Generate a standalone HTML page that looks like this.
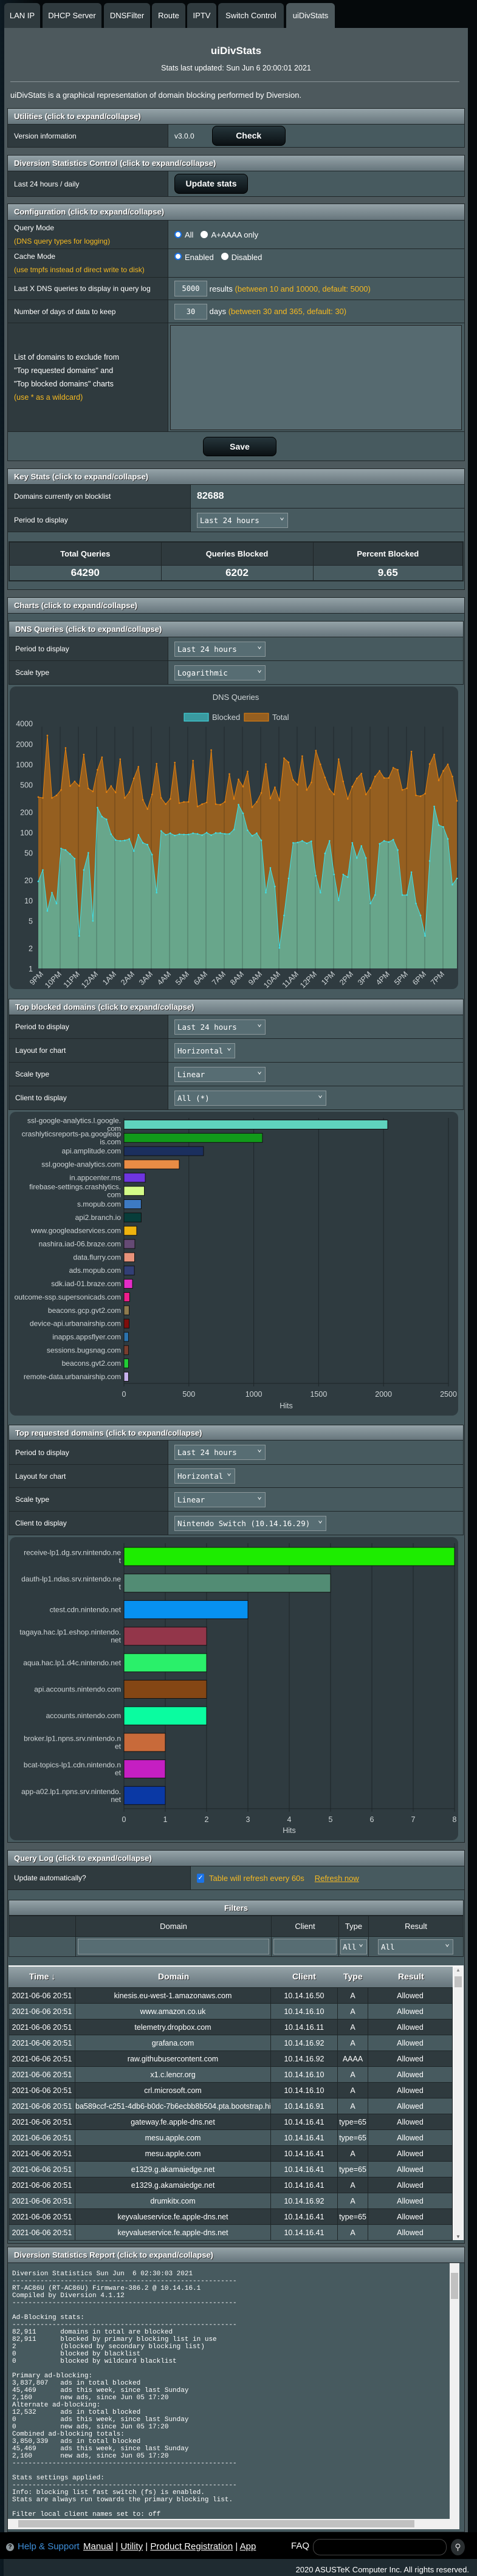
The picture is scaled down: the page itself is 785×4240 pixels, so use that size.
<!DOCTYPE html>
<html><head><meta charset="utf-8">
<style>
*{box-sizing:border-box}
body{margin:0;width:785px;height:4240px;overflow:hidden;background:#05090b;font-family:"Liberation Sans",Arial,sans-serif;color:#fff}
#page{position:relative;width:785px;height:4240px;background:linear-gradient(90deg,#0d1a22 0,#05090b 60px,#05090b 100%)}
.a{position:absolute}
.tab{position:absolute;top:5px;height:41px;background:#2f3a3e;border-radius:6px 6px 0 0;font-size:13px;line-height:41px;text-align:center;color:#fff}
.h{position:absolute;height:27px;background:linear-gradient(#95a3a8,#66757c);color:#fff;font-weight:bold;font-size:13px;line-height:26px;padding-left:10px;border:1px solid #1f2628;text-shadow:1px 1px 0 #333}
.r{position:absolute;display:flex;border:1px solid #1f2628;border-top:none}
.l{background:#2f3a3e;font-size:12px;padding-left:10px;display:flex;flex-direction:column;justify-content:center;border-right:1px solid #1f2628;flex:none}
.v{background:#475a5f;flex:1;display:flex;align-items:center;padding-left:10px;font-size:12px}
.btn{background:linear-gradient(#26363c,#0a1013);border-radius:8px;color:#fff;font-weight:bold;font-size:14px;text-align:center;border:1px solid #000}
.sel{position:relative;height:25px;background:#576d73;border:1px solid #8d999c;font-family:"DejaVu Sans Mono","Liberation Mono",monospace;font-size:12.5px;line-height:23px;padding-left:4px;color:#fff}
.sel:after{content:"\2304";position:absolute;right:5px;top:-5px;font-size:13px}
.inp{background:#576d73;border:1px solid #8d999c;font-family:"DejaVu Sans Mono","Liberation Mono",monospace;font-size:12px;color:#fff;text-align:center}
.hint{color:#f5b921}
.radio{display:inline-block;width:12px;height:12px;border-radius:50%;background:#fff;vertical-align:-2px;margin-right:5px}
.radio.on{background:#fff;border:2px solid #1a73e8}
.panel{position:absolute;background:#2f3b40;border-radius:10px}
table{border-collapse:collapse}
.log td{height:26px;border:1px solid #1f2628;text-align:center;font-size:12.5px;padding:0;white-space:nowrap;overflow:hidden}
pre{margin:0;font-family:"Liberation Mono",monospace;font-size:11px;line-height:12px;color:#fff}
</style></head>
<body>
<div id="page">

<div class="tab" style="left:7px;width:59px">LAN IP</div>
<div class="tab" style="left:70px;width:97px">DHCP Server</div>
<div class="tab" style="left:171px;width:76px">DNSFilter</div>
<div class="tab" style="left:250px;width:55px">Route</div>
<div class="tab" style="left:308px;width:48px">IPTV</div>
<div class="tab" style="left:359px;width:108px">Switch Control</div>
<div class="tab" style="left:471px;width:80px;background:#4d595d">uiDivStats</div>

<div class="a" style="left:7px;top:46px;width:763px;height:4122px;background:#4d595d"></div>

<div class="a" style="left:7px;top:74px;width:763px;text-align:center;font-weight:bold;font-size:17px">uiDivStats</div>
<div class="a" style="left:7px;top:105px;width:763px;text-align:center;font-size:12.5px">Stats last updated: Sun Jun 6 20:00:01 2021</div>
<div class="a" style="left:17px;top:134px;width:739px;height:1px;background:#8a9599"></div>
<div class="a" style="left:17px;top:149px;font-size:13px">uiDivStats is a graphical representation of domain blocking performed by Diversion.</div>

<!-- Utilities -->
<div class="h" style="top:178px;left:12px;width:753px">Utilities (click to expand/collapse)</div>
<div class="r" style="top:205px;left:12px;width:753px;height:38px"><div class="l" style="width:264px">Version information</div><div class="v"><span>v3.0.0</span><div class="btn" style="margin-left:29px;width:121px;height:33px;line-height:31px">Check</div></div></div>

<div class="h" style="top:255px;left:12px;width:753px">Diversion Statistics Control (click to expand/collapse)</div>
<div class="r" style="top:282px;left:12px;width:753px;height:42px"><div class="l" style="width:264px">Last 24 hours / daily</div><div class="v"><div class="btn" style="width:121px;height:33px;line-height:31px">Update stats</div></div></div>

<!-- Configuration -->
<div class="h" style="top:335px;left:12px;width:753px;height:28px">Configuration (click to expand/collapse)</div>
<div class="r" style="top:363px;left:12px;width:753px;height:47px"><div class="l" style="width:264px;gap:8px"><span>Query Mode</span><span class="hint">(DNS query types for logging)</span></div><div class="v" style="font-size:13px"><span class="radio on"></span>All<span class="radio" style="margin-left:12px"></span>A+AAAA only</div></div>
<div class="r" style="top:410px;left:12px;width:753px;height:47px"><div class="l" style="width:264px;gap:8px"><span>Cache Mode</span><span class="hint">(use tmpfs instead of direct write to disk)</span></div><div class="v" style="font-size:13px;align-items:flex-start;padding-top:6px"><span class="radio on"></span>Enabled<span class="radio" style="margin-left:12px"></span>Disabled</div></div>
<div class="r" style="top:457px;left:12px;width:753px;height:37px"><div class="l" style="width:264px">Last X DNS queries to display in query log</div><div class="v" style="font-size:13px"><div class="inp" style="width:54px;height:26px;line-height:24px">5000</div>&nbsp;results&nbsp;<span class="hint">(between 10 and 10000, default: 5000)</span></div></div>
<div class="r" style="top:494px;left:12px;width:753px;height:38px"><div class="l" style="width:264px">Number of days of data to keep</div><div class="v" style="font-size:13px"><div class="inp" style="width:54px;height:26px;line-height:24px">30</div>&nbsp;days&nbsp;<span class="hint">(between 30 and 365, default: 30)</span></div></div>
<div class="r" style="top:532px;left:12px;width:753px;height:179px"><div class="l" style="width:264px;gap:8px;font-size:12.5px"><span>List of domains to exclude from</span><span>"Top requested domains" and</span><span>"Top blocked domains" charts</span><span class="hint">(use * as a wildcard)</span></div><div class="v" style="padding-left:3px"><div style="width:480px;height:173px;background:#566a70;border:1px solid #222"></div></div></div>
<div class="r" style="top:711px;left:12px;width:753px;height:48px;background:#475a5f"><div class="btn a" style="left:321px;top:8px;width:121px;height:32px;line-height:30px">Save</div></div>

<!-- Key stats -->
<div class="h" style="top:771px;left:12px;width:753px">Key Stats (click to expand/collapse)</div>
<div class="r" style="top:798px;left:12px;width:753px;height:39px"><div class="l" style="width:301px">Domains currently on blocklist</div><div class="v" style="font-weight:bold;font-size:16px">82688</div></div>
<div class="r" style="top:837px;left:12px;width:753px;height:39px"><div class="l" style="width:301px">Period to display</div><div class="v"><div class="sel" style="width:150px">Last 24 hours</div></div></div>
<div class="a" style="top:876px;left:12px;width:753px;height:95px;background:#475a5f;border:1px solid #1f2628;border-top:none"></div>
<table class="a" style="top:891px;left:14px;width:749px;border:2px solid #1f2628">
<tr style="height:38px;background:#2f3a3e;font-weight:bold;font-size:13px;text-align:center"><td style="width:250px;border:1px solid #1f2628">Total Queries</td><td style="width:250px;border:1px solid #1f2628">Queries Blocked</td><td style="border:1px solid #1f2628">Percent Blocked</td></tr>
<tr style="height:26px;background:#475a5f;font-weight:bold;font-size:17px;text-align:center"><td style="border:1px solid #1f2628">64290</td><td style="border:1px solid #1f2628">6202</td><td style="border:1px solid #1f2628">9.65</td></tr>
</table>

<!-- Charts -->
<div class="h" style="top:983px;left:12px;width:753px">Charts (click to expand/collapse)</div>
<div class="a" style="top:1010px;left:12px;width:753px;height:2023px;background:#475a5f;border:1px solid #1f2628;border-top:none"></div>

<div class="h" style="top:1022px;left:14px;width:749px">DNS Queries (click to expand/collapse)</div>
<div class="r" style="top:1049px;left:14px;width:749px;height:39px"><div class="l" style="width:262px">Period to display</div><div class="v"><div class="sel" style="width:150px">Last 24 hours</div></div></div>
<div class="r" style="top:1088px;left:14px;width:749px;height:39px"><div class="l" style="width:262px">Scale type</div><div class="v"><div class="sel" style="width:150px">Logarithmic</div></div></div>
<div class="panel" style="top:1130px;left:16px;width:738px;height:498px"></div>
<svg class="a" id="dnsChart" style="left:0;top:1130px" width="785" height="498"></svg>

<div class="h" style="top:1644px;left:14px;width:749px">Top blocked domains (click to expand/collapse)</div>
<div class="r" style="top:1671px;left:14px;width:749px;height:39px"><div class="l" style="width:262px">Period to display</div><div class="v"><div class="sel" style="width:150px">Last 24 hours</div></div></div>
<div class="r" style="top:1710px;left:14px;width:749px;height:39px"><div class="l" style="width:262px">Layout for chart</div><div class="v"><div class="sel" style="width:100px">Horizontal</div></div></div>
<div class="r" style="top:1749px;left:14px;width:749px;height:39px"><div class="l" style="width:262px">Scale type</div><div class="v"><div class="sel" style="width:150px">Linear</div></div></div>
<div class="r" style="top:1788px;left:14px;width:749px;height:39px"><div class="l" style="width:262px">Client to display</div><div class="v"><div class="sel" style="width:250px">All (*)</div></div></div>
<div class="panel" style="top:1830px;left:16px;width:738px;height:500px"></div>
<svg class="a" id="blockedChart" style="left:0;top:1830px" width="785" height="500"></svg>

<div class="h" style="top:2345px;left:14px;width:749px;height:26px">Top requested domains (click to expand/collapse)</div>
<div class="r" style="top:2371px;left:14px;width:749px;height:40px"><div class="l" style="width:262px">Period to display</div><div class="v"><div class="sel" style="width:150px">Last 24 hours</div></div></div>
<div class="r" style="top:2411px;left:14px;width:749px;height:38px"><div class="l" style="width:262px">Layout for chart</div><div class="v"><div class="sel" style="width:100px">Horizontal</div></div></div>
<div class="r" style="top:2449px;left:14px;width:749px;height:39px"><div class="l" style="width:262px">Scale type</div><div class="v"><div class="sel" style="width:150px">Linear</div></div></div>
<div class="r" style="top:2488px;left:14px;width:749px;height:39px"><div class="l" style="width:262px">Client to display</div><div class="v"><div class="sel" style="width:250px">Nintendo Switch (10.14.16.29)</div></div></div>
<div class="panel" style="top:2530px;left:16px;width:738px;height:499px"></div>
<svg class="a" id="requestedChart" style="left:0;top:2530px" width="785" height="499"></svg>

<!-- Query log -->
<div class="h" style="top:3045px;left:12px;width:753px">Query Log (click to expand/collapse)</div>
<div class="r" style="top:3072px;left:12px;width:753px;height:39px"><div class="l" style="width:301px">Update automatically?</div><div class="v" style="font-size:13px"><span style="display:inline-block;width:12px;height:15px;background:#1a73e8;border-radius:2px;font-size:11px;line-height:15px;text-align:center;margin-right:8px">✓</span><span class="hint">Table will refresh every 60s</span><span class="hint" style="margin-left:17px;text-decoration:underline">Refresh now</span></div></div>
<div class="a" style="top:3111px;left:12px;width:753px;height:582px;background:#475a5f;border:1px solid #1f2628;border-top:none"></div>
<div class="h" style="top:3127px;left:14px;width:749px;height:26px;text-align:center;padding:0">Filters</div>
<table class="a" style="top:3153px;left:14px;width:749px;font-size:13px;text-align:center">
<tr style="height:34px;background:#2f3a3e"><td style="width:110px;border:1px solid #1f2628"></td><td style="width:322px;border:1px solid #1f2628">Domain</td><td style="width:111px;border:1px solid #1f2628">Client</td><td style="width:49px;border:1px solid #1f2628">Type</td><td style="border:1px solid #1f2628">Result</td></tr>
<tr style="height:32px;background:#475a5f"><td style="border:1px solid #1f2628"></td><td style="border:1px solid #1f2628;padding:3px"><div class="inp" style="height:26px"></div></td><td style="border:1px solid #1f2628;padding:3px"><div class="inp" style="height:26px"></div></td><td style="border:1px solid #1f2628;padding:2px"><div class="sel" style="height:25px;padding-left:3px;text-align:left">All</div></td><td style="border:1px solid #1f2628;padding:2px 16px 2px 15px"><div class="sel" style="text-align:left">All</div></td></tr>
</table>
<div class="a" style="top:3235px;left:14px;width:749px;height:452px;background:#fff"></div>
<div class="a" style="top:3237px;left:14px;width:731px;height:34px;background:linear-gradient(#95a3a8,#66757c);font-weight:bold;font-size:14px;text-shadow:1px 1px 0 #333">
<span class="a" style="left:34px;top:8px">Time ↓</span>
<span class="a" style="left:246px;top:8px">Domain</span>
<span class="a" style="left:467px;top:8px">Client</span>
<span class="a" style="left:551px;top:8px">Type</span>
<span class="a" style="left:641px;top:8px">Result</span>
</div>
<div class="a" style="top:3238px;left:746px;width:16px;height:448px;background:#f0f0f0"><div style="position:absolute;top:15px;left:2px;width:12px;height:18px;background:#c1c1c1"></div><div style="position:absolute;top:0;left:4px;font-size:8px;color:#888">▲</div><div style="position:absolute;bottom:0;left:4px;font-size:8px;color:#666">▼</div></div>
<table class="a log" id="logTable" style="top:3271px;left:14px;width:731px;table-layout:fixed">
<colgroup><col style="width:109px"><col style="width:322px"><col style="width:110px"><col style="width:50px"><col></colgroup>
<tbody id="logBody"></tbody></table>

<!-- Report -->
<div class="h" style="top:3698px;left:12px;width:753px">Diversion Statistics Report (click to expand/collapse)</div>
<div class="a" style="top:3725px;left:12px;width:753px;height:443px;background:#475a5f;border:1px solid #1f2628;border-top:none;overflow:hidden">
<pre style="position:absolute;left:7px;top:12px">Diversion Statistics Sun Jun  6 02:30:03 2021
--------------------------------------------------------
RT-AC86U (RT-AC86U) Firmware-386.2 @ 10.14.16.1
Compiled by Diversion 4.1.12
--------------------------------------------------------

Ad-Blocking stats:
--------------------------------------------------------
82,911      domains in total are blocked
82,911      blocked by primary blocking list in use
2           (blocked by secondary blocking list)
0           blocked by blacklist
0           blocked by wildcard blacklist

Primary ad-blocking:
3,837,807   ads in total blocked
45,469      ads this week, since last Sunday
2,160       new ads, since Jun 05 17:20
Alternate ad-blocking:
12,532      ads in total blocked
0           ads this week, since last Sunday
0           new ads, since Jun 05 17:20
Combined ad-blocking totals:
3,850,339   ads in total blocked
45,469      ads this week, since last Sunday
2,160       new ads, since Jun 05 17:20
--------------------------------------------------------

Stats settings applied:
--------------------------------------------------------
Info: blocking list fast switch (fs) is enabled.
Stats are always run towards the primary blocking list.

Filter local client names set to: off</pre>
<div class="a" style="left:727px;top:0;width:16px;height:421px;background:#f0f0f0"><div style="position:absolute;top:16px;left:2px;width:12px;height:43px;background:#c1c1c1"></div></div>
<div class="a" style="left:0;top:421px;width:743px;height:17px;background:#f0f0f0"><div style="position:absolute;top:2px;left:17px;width:652px;height:12px;background:#c1c1c1"></div></div>
</div>

<!-- Footer -->
<div class="a" style="top:4168px;left:0;width:785px;height:44px;background:#000"></div>
<div class="a" style="top:4186px;left:10px;width:13px;height:13px;border-radius:50%;background:#8a9499;color:#000;font-size:10px;font-weight:bold;text-align:center;line-height:13px">?</div>
<div class="a" style="top:4183px;left:29px;font-size:15px;color:#3e8ed8">Help &amp; Support</div>
<div class="a" style="top:4183px;left:137px;font-size:15px;color:#fff"><u>Manual</u> | <u>Utility</u> | <u>Product Registration</u> | <u>App</u></div>
<div class="a" style="top:4182px;left:479px;font-size:15px">FAQ</div>
<div class="a" style="top:4179px;left:515px;width:220px;height:27px;border:1px solid #444;border-radius:12px;background:#000"></div>
<div class="a" style="top:4179px;left:742px;width:23px;height:27px;border-radius:50%;background:#2a2f31;color:#ddd;text-align:center;line-height:27px;font-size:14px">⚲</div>
<div class="a" style="top:4212px;left:6px;width:779px;height:28px;background:#1f2b31"></div>
<div class="a" style="top:4222px;right:13px;font-size:13px">2020 ASUSTeK Computer Inc. All rights reserved.</div>

</div>

<script>
// ---------- DNS Queries chart data ----------
const hourLabels = ['9PM','10PM','11PM','12AM','1AM','2AM','3AM','4AM','5AM','6AM','7AM','8AM','9AM','10AM','11AM','12PM','1PM','2PM','3PM','4PM','5PM','6PM','7PM'];
const totalQueries = [330,320,2650,320,350,420,1740,480,560,480,
1390,440,400,830,1270,390,480,385,1190,320,
390,620,920,300,220,360,1020,320,260,310,
1060,270,280,280,1130,240,260,275,1620,260,
255,280,720,310,600,470,785,235,280,380,
1010,315,460,295,1230,1070,590,500,1320,420,
540,1590,1000,640,430,360,1190,560,310,470,
620,730,360,450,660,800,630,630,890,830,
420,445,1540,350,340,370,1010,1390,580,800,
1000,660,290];
const blockedQueries = [19,28,7,13,9,58,55,48,41,3,
28,50,5,231,170,155,94,77,75,76,
80,53,92,70,66,47,13,105,92,97,
90,94,93,93,97,95,91,99,91,98,
98,95,95,110,255,190,107,89,97,76,
13,30,16,2,6,21,70,71,75,69,
74,23,13,49,75,24,10,24,22,70,
42,63,42,9,12,68,75,72,78,55,
12,12,26,9,6,3,38,240,128,120,
80,17,21];
const logTicks = [1,2,5,10,20,50,100,200,500,1000,2000,4000];

// ---------- Top blocked data ----------
const blockedDomains = ['ssl-google-analytics.l.google.\ncom','crashlyticsreports-pa.googleap\nis.com','api.amplitude.com','ssl.google-analytics.com','in.appcenter.ms','firebase-settings.crashlytics.\ncom','s.mopub.com','api2.branch.io','www.googleadservices.com','nashira.iad-06.braze.com','data.flurry.com','ads.mopub.com','sdk.iad-01.braze.com','outcome-ssp.supersonicads.com','beacons.gcp.gvt2.com','device-api.urbanairship.com','inapps.appsflyer.com','sessions.bugsnag.com','beacons.gvt2.com','remote-data.urbanairship.com'];
const blockedHits = [2032,1067,613,426,164,157,133,133,98,84,82,80,66,44,40,40,35,35,35,35];
const blockedColors = ['#5fd3bd','#119a1a','#1b2f5e','#e98c45','#6e35e0','#d3fb88','#3d7ac3','#073d3a','#f0b40e','#654a74','#e8927a','#323f76','#e52cc9','#f01d8c','#8f7b4e','#7e0e0c','#2b73ad','#7a3e2e','#21cc35','#c7b2ee'];
const blockedTicks = [0,500,1000,1500,2000,2500];

// ---------- Top requested data ----------
const requestedDomains = ['receive-lp1.dg.srv.nintendo.ne\nt','dauth-lp1.ndas.srv.nintendo.ne\nt','ctest.cdn.nintendo.net','tagaya.hac.lp1.eshop.nintendo.\nnet','aqua.hac.lp1.d4c.nintendo.net','api.accounts.nintendo.com','accounts.nintendo.com','broker.lp1.npns.srv.nintendo.n\net','bcat-topics-lp1.cdn.nintendo.n\net','app-a02.lp1.npns.srv.nintendo.\nnet'];
const requestedHits = [8,5,3,2,2,2,2,1,1,1];
const requestedColors = ['#1ded00','#528c74','#0791f0','#93364a','#2af06a','#844614','#0afca0','#c86a3a','#c51fc2','#0a39a5'];
const requestedTicks = [0,1,2,3,4,5,6,7,8];

// ---------- Query log data ----------
const logDomains = ['kinesis.eu-west-1.amazonaws.com','www.amazon.co.uk','telemetry.dropbox.com','grafana.com','raw.githubusercontent.com','x1.c.lencr.org','crl.microsoft.com','ba589ccf-c251-4db6-b0dc-7b6ecbb8b504.pta.bootstrap.his.','gateway.fe.apple-dns.net','mesu.apple.com','mesu.apple.com','e1329.g.akamaiedge.net','e1329.g.akamaiedge.net','drumkitx.com','keyvalueservice.fe.apple-dns.net','keyvalueservice.fe.apple-dns.net'];
const logClients = ['10.14.16.50','10.14.16.10','10.14.16.11','10.14.16.92','10.14.16.92','10.14.16.10','10.14.16.10','10.14.16.91','10.14.16.41','10.14.16.41','10.14.16.41','10.14.16.41','10.14.16.41','10.14.16.92','10.14.16.41','10.14.16.41'];
const logTypes = ['A','A','A','A','AAAA','A','A','A','type=65','type=65','A','type=65','A','A','type=65','A'];

const NS='http://www.w3.org/2000/svg';
function mk(parent, tag, attrs, text){
  const e=document.createElementNS(NS,tag);
  for(const k in attrs) e.setAttribute(k,attrs[k]);
  if(text!==undefined) e.textContent=text;
  parent.appendChild(e); return e;
}

// DNS chart
(function(){
  const svg=document.getElementById('dnsChart');
  const x0=63, x1=752, base=464, perDecade=112;
  const xs=i=>x0+i*(x1-x0)/(totalQueries.length-1);
  const ys=v=>base-perDecade*Math.log10(v);
  const t=mk(svg,'text',{x:388,y:22,'text-anchor':'middle','font-size':13,fill:'#cfd5d7','font-family':'Liberation Sans'},'DNS Queries');
  
  
  const lb=mk(svg,'rect',{x:303,y:44,width:40,height:13,fill:'#3a9aa0',stroke:'#40e0e8','stroke-width':1});
  
  
  mk(svg,'text',{x:349,y:55,'font-size':13,fill:'#cfd5d7','font-family':'Liberation Sans'},'Blocked');
  const lt=mk(svg,'rect',{x:402,y:44,width:40,height:13,fill:'#955f20',stroke:'#e8820c','stroke-width':1});
  
  
  mk(svg,'text',{x:448,y:55,'font-size':13,fill:'#cfd5d7','font-family':'Liberation Sans'},'Total');
  logTicks.forEach(v=>{
    const tx=mk(svg,'text',{x:54,y:ys(v)+5,'text-anchor':'end','font-size':12.5,fill:'#cfd5d7','font-family':'Liberation Sans'},String(v));
    
    
  });
  function area(arr){
    let d='M'+xs(0)+','+base;
    arr.forEach((v,i)=>{d+=' L'+xs(i).toFixed(1)+','+ys(v).toFixed(1);});
    return d+' L'+xs(arr.length-1)+','+base+' Z';
  }
  function line(arr){return arr.map((v,i)=>(i?'L':'M')+xs(i).toFixed(1)+','+ys(v).toFixed(1)).join(' ');}
  const at=mk(svg,'path',{d:area(totalQueries),fill:'#955f20'});
  
  
  const ab=mk(svg,'path',{d:area(blockedQueries),fill:'#68a68b'});
  
  
  hourLabels.forEach((h,k)=>{
    const gx=69+30*k;
    mk(svg,'line',{x1:gx,y1:66,x2:gx,y2:base+6,stroke:'rgba(0,0,0,0.28)','stroke-width':1});
    const tx=mk(svg,'text',{x:gx+3,y:base+10,'text-anchor':'end','font-size':12.5,fill:'#cfd5d7','font-family':'Liberation Sans',transform:'rotate(-45 '+(gx+3)+' '+(base+10)+')'},h);
    
    
  });
  mk(svg,'path',{d:line(totalQueries),fill:'none',stroke:'#e8820c','stroke-width':1});
  mk(svg,'path',{d:line(blockedQueries),fill:'none',stroke:'#3ee0e8','stroke-width':1});
  totalQueries.forEach((v,i)=>{
    const c=mk(svg,'circle',{cx:xs(i),cy:ys(v),r:1.3,fill:'#e8820c'});
    
    
  });
  blockedQueries.forEach((v,i)=>{
    const c=mk(svg,'circle',{cx:xs(i),cy:ys(v),r:1.3,fill:'#3ee0e8'});
    
    
  });
})();

function barChart(svgId, labels, values, colors, ticks, scale, firstY, step, barH, gridTop, axisY, hitsY){
  const svg=document.getElementById(svgId);
  const x0=204;
  const xs=v=>x0+v*scale;
  ticks.forEach(v=>{
    mk(svg,'line',{x1:xs(v),y1:gridTop,x2:xs(v),y2:axisY+5,stroke:'#1e2629','stroke-width':1});
    const tx=mk(svg,'text',{x:xs(v),y:axisY+22,'text-anchor':'middle','font-size':12.5,fill:'#cfd5d7','font-family':'Liberation Sans'},String(v));
    
    
  });
  mk(svg,'line',{x1:x0,y1:axisY,x2:xs(ticks[ticks.length-1]),y2:axisY,stroke:'#1e2629','stroke-width':1});
  const ht=mk(svg,'text',{x:(x0+xs(ticks[ticks.length-1]))/2,y:hitsY,'text-anchor':'middle','font-size':12.5,fill:'#cfd5d7','font-family':'Liberation Sans'},'Hits');
  
  
  values.forEach((v,i)=>{
    const cy=firstY+i*step;
    const r=mk(svg,'rect',{x:x0,y:cy-barH/2,width:Math.max(0,xs(v)-x0),height:barH,fill:colors[i],stroke:'#111','stroke-width':1});
    
    
    const parts=labels[i].split('\n');
    parts.forEach((p,j)=>{
      const yy=cy+4+(j-(parts.length-1)/2)*13;
      const tx=mk(svg,'text',{x:199,y:yy,'text-anchor':'end','font-size':12,fill:'#cfd5d7','font-family':'Liberation Sans'},p);
      
      
    });
  });
}
barChart('blockedChart',blockedDomains,blockedHits,blockedColors,blockedTicks,(738-204)/2500,21,21.84,15,10,447,488);
barChart('requestedChart',requestedDomains,requestedHits,requestedColors,requestedTicks,68,32,43.7,30,10,447,487);

// Query log rows
(function(){
  const body=document.getElementById('logBody');
  logDomains.forEach((d,i)=>{
    const tr=document.createElement('tr');
    
    
    tr.style.background = i%2 ? '#475a5f' : '#2f3a3e';
    const cells=['2021-06-06 20:51',d,logClients[i],logTypes[i],'Allowed'];
    cells.forEach(c=>{const td=document.createElement('td');td.textContent=c;tr.appendChild(td);});
    body.appendChild(tr);
  });
})();
</script>
</body></html>
